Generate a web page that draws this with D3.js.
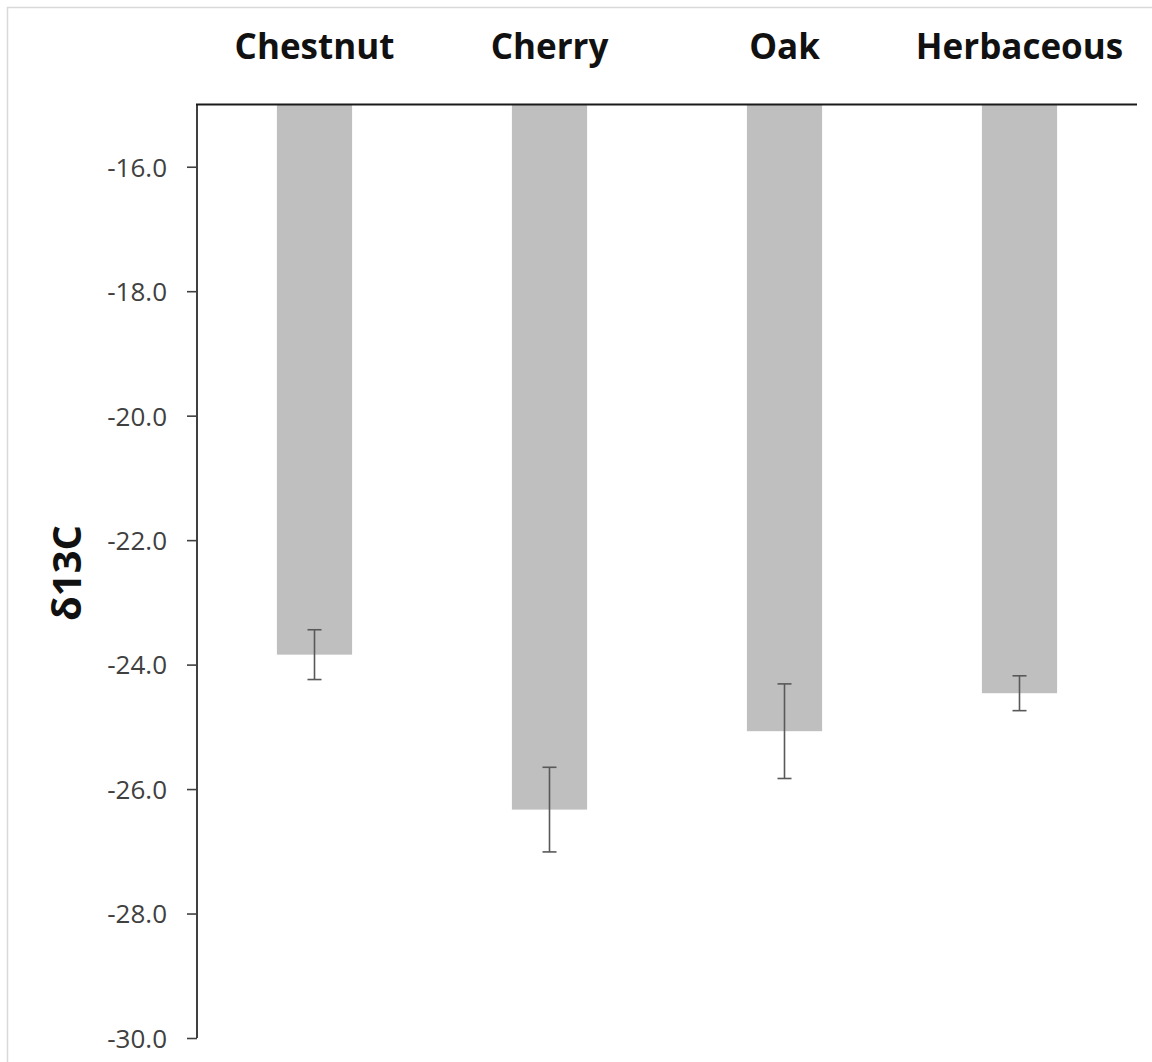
<!DOCTYPE html>
<html>
<head>
<meta charset="utf-8">
<script src="https://cdn.jsdelivr.net/npm/d3@7"></script>
<style>
  html, body { margin: 0; padding: 0; background: #fff; }
  svg { display: block; }
</style>
</head>
<body>
<svg id="chart" width="1152" height="1062"></svg>
<script>
// Mean δ13C per vegetation type, with error (±) values
const categories = ["Chestnut", "Cherry", "Oak", "Herbaceous"];
const means = [-23.84, -26.33, -25.07, -24.46];
const errors = [0.40, 0.68, 0.76, 0.28];
const yTicks = [-16, -18, -20, -22, -24, -26, -28, -30];
const yTitle = "δ13C";

const svg = d3.select("#chart");
const W = 1152, H = 1062;
const plotLeft = 197, plotRight = 1137, plotTop = 104.5, plotBottom = 1038;
const font = "'Open Sans', Lato, sans-serif";

// faint frame around the figure
svg.append("rect")
  .attr("x", 7.5).attr("y", 7.5)
  .attr("width", W + 20).attr("height", H + 20)
  .attr("fill", "none").attr("stroke", "#d9d9d9").attr("stroke-width", 1.5);

const x = d3.scaleBand()
  .domain(categories)
  .range([plotLeft, plotRight])
  .paddingInner(0.68)
  .paddingOuter(0.34);

const y = d3.scaleLinear()
  .domain([-15, -30])
  .range([plotTop, plotBottom]);

// bars hang down from the top axis (-15) to each mean
svg.append("g").selectAll("rect")
  .data(categories)
  .join("rect")
  .attr("x", d => x(d))
  .attr("width", x.bandwidth())
  .attr("y", y(-15))
  .attr("height", (d, i) => y(means[i]) - y(-15))
  .attr("fill", "#bfbfbf");

// error bars
const eg = svg.append("g").attr("stroke", "#595959").attr("stroke-width", 1.6).attr("fill", "none");
categories.forEach((c, i) => {
  const cx = x(c) + x.bandwidth() / 2;
  const y1 = y(means[i] + errors[i]), y2 = y(means[i] - errors[i]);
  eg.append("line").attr("x1", cx).attr("x2", cx).attr("y1", y1).attr("y2", y2);
  eg.append("line").attr("x1", cx - 7).attr("x2", cx + 7).attr("y1", y1).attr("y2", y1);
  eg.append("line").attr("x1", cx - 7).attr("x2", cx + 7).attr("y1", y2).attr("y2", y2);
});

// left value axis
const yAxis = svg.append("g")
  .attr("transform", `translate(${plotLeft},0)`)
  .call(d3.axisLeft(y).tickValues(yTicks).tickSize(10).tickPadding(20)
    .tickFormat(d => d.toFixed(1)));
yAxis.select(".domain").remove();
yAxis.selectAll(".tick line").attr("stroke", "#404040").attr("stroke-width", 1.6);
yAxis.selectAll(".tick text")
  .attr("fill", "#404040")
  .attr("dy", "0.36em")
  .style("font-family", font)
  .style("font-size", "26px");

svg.append("line")
  .attr("x1", plotLeft).attr("x2", plotLeft)
  .attr("y1", y(-15)).attr("y2", y(-30))
  .attr("stroke", "#404040").attr("stroke-width", 2);

// top category axis line
svg.append("line")
  .attr("x1", plotLeft - 1).attr("x2", plotRight)
  .attr("y1", y(-15)).attr("y2", y(-15))
  .attr("stroke", "#1a1a1a").attr("stroke-width", 2);

// category labels above the plot
svg.append("g").selectAll("text")
  .data(categories)
  .join("text")
  .attr("x", d => x(d) + x.bandwidth() / 2)
  .attr("y", 59)
  .attr("text-anchor", "middle")
  .attr("fill", "#111")
  .style("font-family", font)
  .style("font-weight", "bold")
  .style("font-size", "35px")
  .text(d => d);

// y axis title
svg.append("text")
  .attr("transform", "translate(81,573) rotate(-90)")
  .attr("text-anchor", "middle")
  .attr("fill", "#111")
  .style("font-family", font)
  .style("font-weight", "bold")
  .style("font-size", "40px")
  .text(yTitle);
</script>
</body>
</html>
